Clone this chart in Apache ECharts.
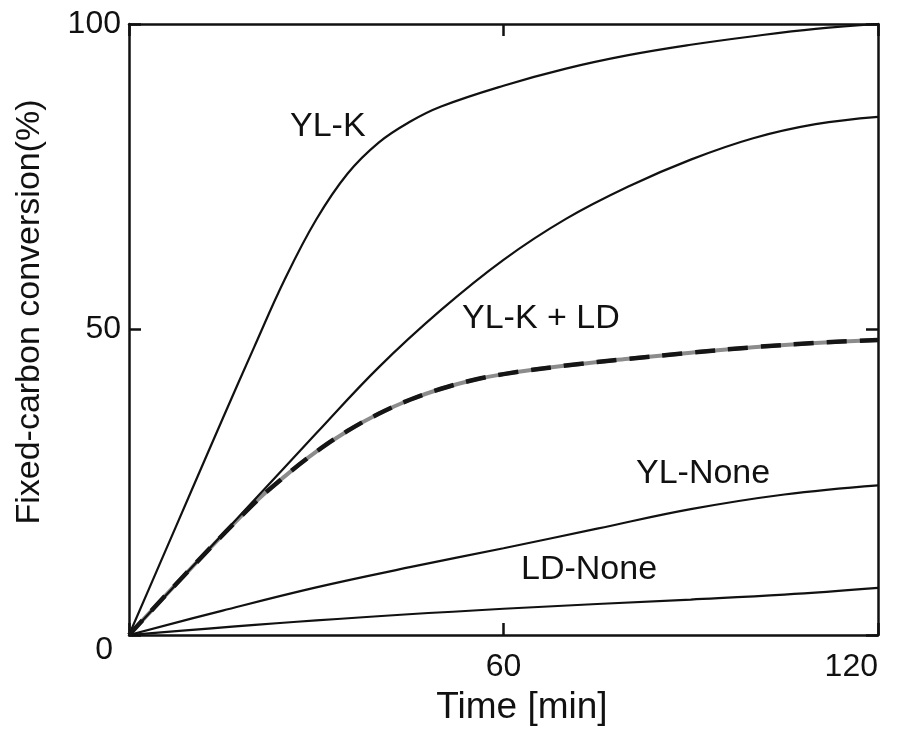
<!DOCTYPE html>
<html>
<head>
<meta charset="utf-8">
<script src="https://cdn.jsdelivr.net/npm/echarts@6/dist/echarts.min.js"></script>
<style>
  html, body { margin: 0; padding: 0; background: #fff; }
  #chart { width: 897px; height: 729px; }
</style>
</head>
<body>
<div id="chart"></div>
<script>
// Fixed-carbon conversion (%) versus gasification time (min)
const tYLK    = [0, 5, 10, 15, 20, 25, 30, 35, 40, 45, 50, 60, 70, 80, 90, 100, 110, 120];
const vYLK    = [0, 11.8, 23.6, 35.4, 47, 58.3, 68, 75.5, 80.6, 84, 86.5, 89.9, 92.7, 94.9, 96.6, 98, 99.2, 100];

const tYLKLD  = [0, 10, 20, 30, 40, 50, 60, 70, 80, 90, 100, 110, 120];
const vYLKLD  = [0, 11, 22, 33, 43.8, 53.2, 61.4, 68.1, 73.4, 77.8, 81.3, 83.6, 84.8];

const tCalc   = [0, 10, 20, 25, 30, 35, 40, 45, 50, 55, 60, 70, 80, 90, 100, 110, 120];
const vCalc   = [0, 11, 21.5, 26, 30, 33.4, 36.2, 38.5, 40.3, 41.7, 42.7, 44.1, 45.2, 46.2, 47.1, 47.8, 48.3];

const tYLNone = [0, 15, 30, 45, 60, 75, 90, 105, 120];
const vYLNone = [0, 4, 7.8, 11.1, 14.2, 17.4, 20.6, 23, 24.5];

const tLDNone = [0, 30, 60, 90, 105, 120];
const vLDNone = [0, 2.4, 4.3, 5.8, 6.6, 7.7];

const xTickLabels = { 0: '', 60: '60', 120: '120' };
const yTickLabels = { 0: '0', 50: '50', 100: '100' };

const curveNames = ['YL-K', 'YL-K + LD', 'YL-None', 'LD-None'];
const xTitle = 'Time [min]';
const yTitle = 'Fixed-carbon conversion(%)';

const zip = (t, v) => t.map((x, i) => [x, v[i]]);
const FONT = '"Liberation Sans", Arial, sans-serif';
const INK = '#111';

const axisLine = { show: true, onZero: false, lineStyle: { color: INK, width: 2.5 } };
const axisTick = { show: true, inside: true, length: 12, lineStyle: { color: INK, width: 2.5 } };

const solid = (name, t, v) => ({
  name, type: 'line', data: zip(t, v), smooth: 0.4, showSymbol: false,
  lineStyle: { color: INK, width: 2.2 }, silent: true, z: 3
});

const chart = echarts.init(document.getElementById('chart'), null, { renderer: 'canvas' });
chart.setOption({
  backgroundColor: '#ffffff',
  animation: false,
  grid: { left: 129, right: 19, top: 24, bottom: 94, containLabel: false },
  xAxis: [
    {
      type: 'value', position: 'bottom', min: 0, max: 120, interval: 60,
      axisLine, axisTick, splitLine: { show: false },
      axisLabel: {
        show: true, margin: 16, color: INK, fontSize: 32, fontFamily: FONT,
        alignMaxLabel: 'right',
        formatter: v => xTickLabels[v] ?? ''
      }
    },
    {
      type: 'value', position: 'top', min: 0, max: 120, interval: 60,
      axisLine, axisTick, splitLine: { show: false }, axisLabel: { show: false }
    }
  ],
  yAxis: [
    {
      type: 'value', position: 'left', min: 0, max: 100, interval: 50,
      axisLine, axisTick, splitLine: { show: false },
      axisLabel: {
        show: true, margin: 8, color: INK, fontSize: 32, fontFamily: FONT,
        formatter: v => (v === 0 ? '{z|' + yTickLabels[v] + '}' : yTickLabels[v]),
        rich: { z: { fontSize: 32, fontFamily: FONT, color: INK, padding: [30, 8, 0, 0] } }
      }
    },
    {
      type: 'value', position: 'right', min: 0, max: 100, interval: 50,
      axisLine, axisTick, splitLine: { show: false }, axisLabel: { show: false }
    }
  ],
  series: [
    solid(curveNames[0], tYLK, vYLK),
    solid(curveNames[1], tYLKLD, vYLKLD),
    // calculated curve: grey band with a heavy dashed stroke on top
    {
      name: 'calc-band', type: 'line', data: zip(tCalc, vCalc), smooth: 0.4, showSymbol: false,
      lineStyle: { color: '#8c8c8c', width: 4 }, silent: true, z: 2
    },
    {
      name: 'calc-dash', type: 'line', data: zip(tCalc, vCalc), smooth: 0.4, showSymbol: false,
      lineStyle: { color: '#151515', width: 4.5, type: [20, 13] }, silent: true, z: 4
    },
    solid(curveNames[2], tYLNone, vYLNone),
    solid(curveNames[3], tLDNone, vLDNone)
  ],
  graphic: [
    { type: 'text', left: 290, top: 110, style: { text: curveNames[0], font: '34px ' + FONT, fill: INK } },
    { type: 'text', left: 462, top: 302, style: { text: curveNames[1], font: '34px ' + FONT, fill: INK } },
    { type: 'text', left: 636, top: 457, style: { text: curveNames[2], font: '34px ' + FONT, fill: INK } },
    { type: 'text', left: 521, top: 553, style: { text: curveNames[3], font: '34px ' + FONT, fill: INK } },
    {
      type: 'text', x: 522, y: 708,
      style: { text: xTitle, font: '37px ' + FONT, fill: INK, align: 'center', verticalAlign: 'middle' }
    },
    {
      type: 'text', x: 30, y: 312, rotation: Math.PI / 2,
      style: { text: yTitle, font: '34px ' + FONT, fill: INK, align: 'center', verticalAlign: 'middle' }
    }
  ]
});
</script>
</body>
</html>
